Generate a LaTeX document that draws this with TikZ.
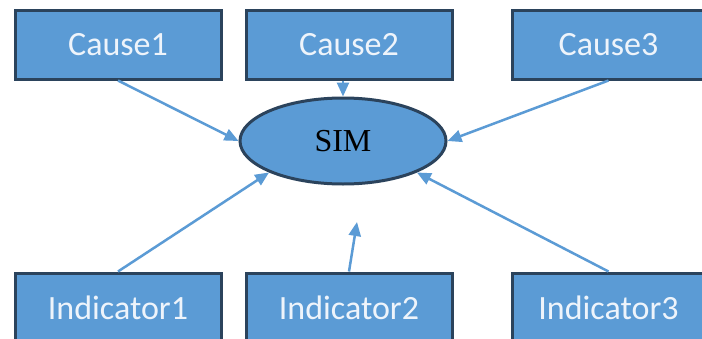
\documentclass[tikz,border=0pt]{standalone}
\usepackage{fontspec}
\setmainfont{Liberation Serif}
\newfontfamily\calibri{Carlito}
\usepackage{tikz}
\usetikzlibrary{positioning, arrows.meta, shapes.geometric}
\definecolor{boxblue}{HTML}{5B9BD5}
\definecolor{boxline}{HTML}{2B435C}
\definecolor{boxtext}{HTML}{EEF4FB}

\begin{document}
\begin{tikzpicture}[x=1pt, y=-1pt]
    \tikzstyle{block} = [rectangle, draw=boxline, line width=3pt, fill=boxblue, text=boxtext, minimum width=206pt, minimum height=69pt, inner sep=0pt, font=\calibri\fontsize{34}{38}\selectfont]
    \tikzstyle{latent} = [ellipse, draw=boxline, line width=3pt, fill=boxblue, minimum width=206pt, minimum height=86pt, inner sep=0pt, font=\fontsize{32}{36}\selectfont]
    \tikzstyle{arrow} = [line width=2.5pt, draw=boxblue, -{Triangle[length=14pt, width=12pt]}]

    \useasboundingbox [fill=white] (0,0) rectangle (702,338);

    \node [block] (cause1) at (118,44.5) {Cause1};
    \node [block, right=22pt of cause1] (cause2) {Cause2};
    \node [block, right=57pt of cause2, minimum width=193pt] (cause3) {Cause3};

    \node [block, below=191pt of cause1] (ind1) {Indicator1};
    \node [block, below=191pt of cause2] (ind2) {Indicator2};
    \node [block, below=191pt of cause3, minimum width=193pt] (ind3) {Indicator3};

    \node [latent] (sim) at (343,141) {SIM};
    \coordinate (free) at (357,222);

    \draw [arrow] (cause1.south) -- (sim.west);
    \draw [arrow] (cause2.south -| sim.north) -- (sim.north);
    \draw [arrow] (cause3.south) -- (sim.east);
    \draw [arrow] (ind1.north) -- (sim.south west);
    \draw [arrow] (ind2.north) -- (free);
    \draw [arrow] (ind3.north) -- (sim.south east);
\end{tikzpicture}
\end{document}
